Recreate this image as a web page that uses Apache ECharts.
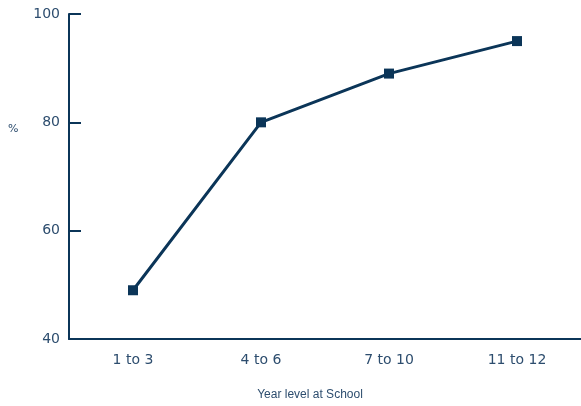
<!DOCTYPE html>
<html><head><meta charset="utf-8">
<script src="https://cdn.jsdelivr.net/npm/echarts@6/dist/echarts.min.js"></script>
<style>html,body{margin:0;padding:0;background:#fff}#c{width:581px;height:406px}</style>
</head><body><div id="c"></div>
<script>
const categories = ["1 to 3", "4 to 6", "7 to 10", "11 to 12"];
const values = [49, 80, 89, 95];
const yTicks = [40, 60, 80, 100];
const yUnit = "%";
const xTitle = "Year level at School";

const navy = "#0b3558";
const textCol = "#2d4d6e";
const chart = echarts.init(document.getElementById('c'));
chart.setOption({
  animation: false,
  graphic: [{
    type: 'text', left: 8, top: 124,
    style: { text: yUnit, fill: textCol, fontSize: 11, fontFamily: 'DejaVu Sans, sans-serif' }
  }],
  grid: { left: 69, top: 14, width: 518, height: 330 },
  xAxis: {
    type: 'category', data: categories, boundaryGap: true,
    name: xTitle, nameLocation: 'middle', nameGap: 50,
    nameTextStyle: { color: textCol, fontSize: 12, fontFamily: 'Liberation Sans Narrow, Arial Narrow, sans-serif', padding: [0, 0, 0, -30] },
    axisLine: { lineStyle: { color: navy, width: 2 } },
    axisTick: { inside: true, length: 8, lineStyle: { color: navy, width: 2 } },
    axisLabel: { color: textCol, fontSize: 14, margin: 14, fontFamily: 'DejaVu Sans, sans-serif' }
  },
  yAxis: {
    type: 'value', min: 40, max: 100, interval: 20,
    axisLine: { show: true, lineStyle: { color: navy, width: 2 } },
    axisTick: { show: true, inside: true, length: 12, lineStyle: { color: navy, width: 2 } },
    axisLabel: { color: textCol, fontSize: 14, margin: 9, fontFamily: 'DejaVu Sans, sans-serif', formatter: v => yTicks.includes(v) ? String(v) : '' },
    splitLine: { show: false }
  },
  series: [{
    type: 'line', data: values,
    symbol: 'rect', symbolSize: 10,
    lineStyle: { color: navy, width: 3 },
    itemStyle: { color: navy }
  }]
});
</script></body></html>
